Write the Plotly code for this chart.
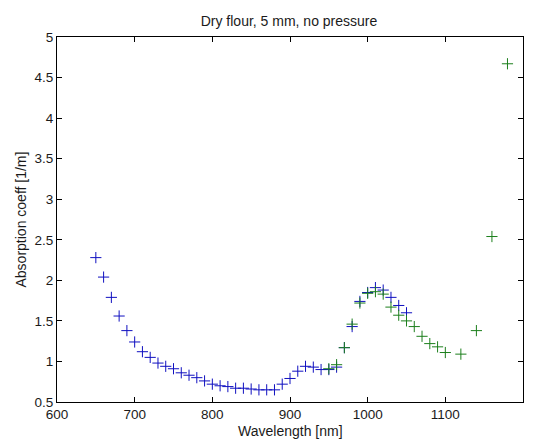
import plotly.graph_objects as go

# Blue series (first measurement)
blue_wl = [650, 660, 670, 680, 690, 700, 710, 720, 730, 740, 750, 760, 770, 780, 790,
           800, 810, 820, 830, 840, 850, 860, 870, 880, 890, 900, 910, 920, 930, 940,
           950, 960, 970, 980, 990, 1000, 1010, 1020, 1030, 1040, 1050]
blue_abs = [2.28, 2.04, 1.79, 1.56, 1.38, 1.24, 1.12, 1.05, 0.98, 0.94, 0.91, 0.86, 0.83, 0.80, 0.76,
            0.72, 0.70, 0.69, 0.67, 0.67, 0.66, 0.65, 0.65, 0.65, 0.72, 0.79, 0.88, 0.94, 0.93, 0.90,
            0.90, 0.93, 1.17, 1.43, 1.74, 1.85, 1.91, 1.88, 1.79, 1.69, 1.60]

# Green series (second measurement)
green_wl = [950, 960, 970, 980, 990, 1000, 1010, 1020, 1030, 1040, 1050, 1060, 1070, 1080,
            1090, 1100, 1120, 1140, 1160, 1180]
green_abs = [0.91, 0.96, 1.17, 1.46, 1.72, 1.84, 1.86, 1.83, 1.67, 1.57, 1.50, 1.43, 1.31, 1.22,
             1.18, 1.11, 1.09, 1.38, 2.54, 4.67]

x_ticks = [600, 700, 800, 900, 1000, 1100, 1200]
y_ticks = [0.5, 1, 1.5, 2, 2.5, 3, 3.5, 4, 4.5, 5]
y_tick_text = ["0.5", "1", "1.5", "2", "2.5", "3", "3.5", "4", "4.5", "5"]

title_text = "Dry flour, 5 mm, no pressure"
x_title = "Wavelength [nm]"
y_title = "Absorption coeff [1/m]"

FONT = "Liberation Sans, Arial, Helvetica, sans-serif"
TXT = "#1a1a1a"

fig = go.Figure()
fig.add_trace(go.Scatter(
    x=blue_wl, y=blue_abs, mode="markers",
    marker=dict(symbol="cross-thin", size=8, line=dict(color="#1010c0", width=1)),
    showlegend=False))
fig.add_trace(go.Scatter(
    x=green_wl, y=green_abs, mode="markers",
    marker=dict(symbol="cross-thin", size=8, line=dict(color="#1c7f1c", width=1)),
    showlegend=False))

axis_common = dict(
    showgrid=False, zeroline=False, showline=True, linecolor="#000000", linewidth=1,
    mirror="ticks", ticks="inside", ticklen=5, tickwidth=1, tickcolor="#000000",
    tickfont=dict(family=FONT, size=13.5, color=TXT),
)

fig.update_layout(
    width=537, height=439,
    margin=dict(l=57, r=14, t=37, b=37, autoexpand=False),
    paper_bgcolor="white", plot_bgcolor="white",
    font=dict(family=FONT, size=13.5, color=TXT),
    title=dict(text=title_text, x=289 / 537, xanchor="center", y=1 - 21 / 439, yanchor="middle",
               font=dict(family=FONT, size=14, color=TXT)),
    xaxis=dict(range=[600, 1200], tickvals=x_ticks, ticktext=[str(v) for v in x_ticks],
               **axis_common),
    yaxis=dict(range=[0.5, 5], tickvals=y_ticks, ticktext=y_tick_text, **axis_common),
    annotations=[
        dict(text=x_title, xref="paper", yref="paper", x=0.5, y=(402.3 - 431) / 365.3,
             xanchor="center", yanchor="middle", showarrow=False,
             font=dict(family=FONT, size=14, color=TXT)),
        dict(text=y_title, xref="paper", yref="paper", x=(20 - 57) / 466, y=0.5,
             xanchor="center", yanchor="middle", showarrow=False, textangle=-90,
             font=dict(family=FONT, size=14, color=TXT)),
    ],
)

fig.write_html("out.html", config={"displayModeBar": False},
               post_script="document.body.style.margin='0';")
